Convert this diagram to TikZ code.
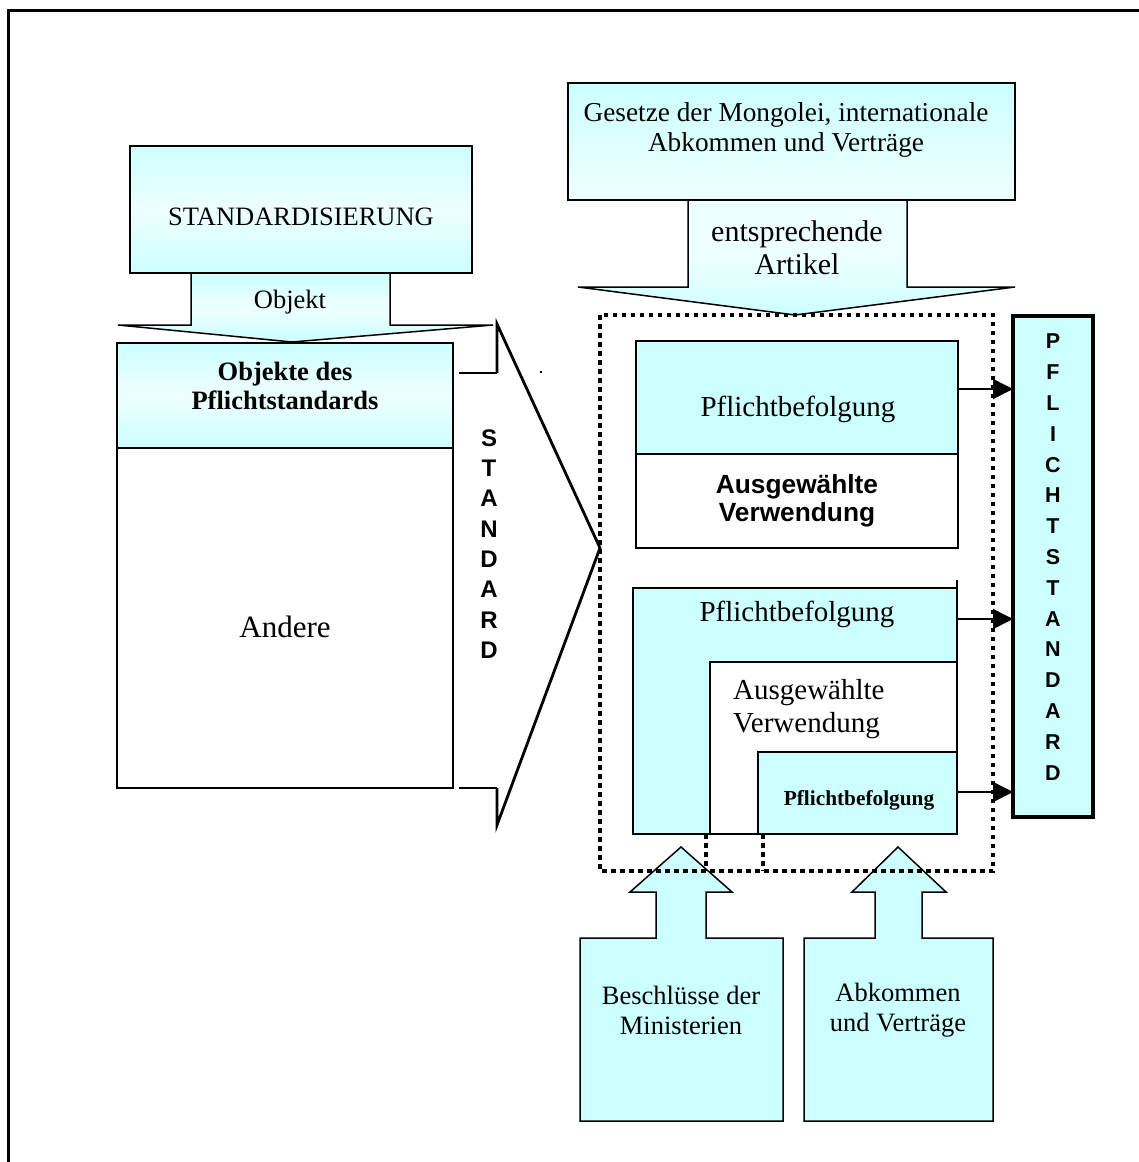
\documentclass[tikz,border=0pt]{standalone}
\usepackage{fontspec}
\setmainfont{Liberation Serif}
\newfontfamily\arialfont{Liberation Sans}
\usetikzlibrary{arrows.meta}
\definecolor{cy}{HTML}{CCFFFF}
\definecolor{cyl}{HTML}{EEFFFF}
\newcommand{\fsz}[2]{\fontsize{#1}{#2}\selectfont}
\begin{document}
\begin{tikzpicture}[x=1pt,y=-1pt,
  box/.style={draw, line width=1.5pt, inner sep=0pt, outer sep=0pt, anchor=north west},
  flatbox/.style={box, fill=cy},
  whitebox/.style={box, fill=white},
  shadebox/.style={box, top color=cy, bottom color=cy, middle color=cyl},
  blockarrow/.style={draw, line width=1.5pt, top color=cy, bottom color=cy, middle color=cyl},
  txt/.style={inner sep=0pt, align=center, font=\fsz{26.5}{30}},
  sansletters/.style={inner sep=0pt, align=center, font=\arialfont\bfseries\fsz{24}{30.3}},
  arr/.style={line width=1.5pt, -{Triangle[length=20pt,width=20pt]}},
  dots/.style={line width=4pt, dash pattern=on 4.5pt off 4.5pt},
  headline/.style={line width=2.8pt, line join=miter}
]
\useasboundingbox (0,0) rectangle (1139,1162);

% page frame (left and top edges only)
\draw[line width=3pt] (8,1162) -- (8,10) -- (1139,10);

% ---------------- left column ----------------
% block arrow below STANDARDISIERUNG
\path[blockarrow] (191,273) -- (191,325) -- (118,325) -- (292,342) -- (493,325) -- (390,325) -- (390,273);
\node[shadebox, minimum width=342pt, minimum height=127pt] (stdz) at (130,146) {};
\node[txt] (tstdz) at (301,217) {STANDARDISIERUNG};
\node[txt] (tobjekt) at (290,302) {Objekt};

\node[shadebox, minimum width=336pt, minimum height=105pt] (obj) at (117,343) {};
\node[whitebox, minimum width=336pt, minimum height=340pt] (andere) at (117,448) {};
\node[txt, font=\bfseries\fsz{26.5}{28.3}] (tobj) at (285,386) {Objekte des\\Pflichtstandards};
\node[txt, font=\fsz{31}{34}] (tandere) at (285,627) {Andere};

% large arrow STANDARD
\coordinate (sa1) at (459,373);
\coordinate (sa2) at (459,788);
\draw[line width=1.5pt] (sa1) -- (497,373);
\draw[line width=1.5pt] (sa2) -- (497,788);
\draw[headline] (497,373) -- (497,324) -- (600,548) -- (497,825) -- (497,788);
\node[sansletters] (tstd) at (489,544) {S\\T\\A\\N\\D\\A\\R\\D};
\fill (540,371) rectangle (542,373);

% ---------------- right column ----------------
\path[blockarrow, top color=cyl, bottom color=cy, middle color=cyl] (688,200) -- (688,287) -- (578,287) -- (795,315) -- (1015,287) -- (907,287) -- (907,200);
\node[box, top color=cy, bottom color=cyl, minimum width=447pt, minimum height=117pt] (ges) at (568,83) {};
\node[txt, font=\fsz{27.3}{30.5}] (tges) at (786,130) {Gesetze der Mongolei, internationale\\Abkommen und Verträge};
\node[txt, font=\fsz{30}{33}] (tart) at (797,248) {entsprechende\\Artikel};

% first group
\node[flatbox, minimum width=322pt, minimum height=113pt] (pb1) at (636,341) {};
\node[whitebox, minimum width=322pt, minimum height=94pt] (av1) at (636,454) {};
\node[txt, font=\fsz{29}{33}] (tpb1) at (798,409) {Pflichtbefolgung};
\node[txt, font=\arialfont\bfseries\fsz{26.3}{28.3}] (tav1) at (797,501) {Ausgewählte\\Verwendung};

% second group (nested)
\node[flatbox, minimum width=324pt, minimum height=246pt] (pb2) at (633,588) {};
\node[whitebox, line width=2.8pt, minimum width=247pt, minimum height=172pt] (av2) at (710,662) {};
\node[flatbox, line width=2pt, minimum width=199pt, minimum height=82pt] (pb3) at (758,752) {};
\draw[line width=2pt] (957,580) -- (957,834);
\node[txt, font=\fsz{29}{33}] (tpb2) at (797,614) {Pflichtbefolgung};
\node[txt, align=left, anchor=west, font=\fsz{29}{33}] (tav2) at (733,709) {Ausgewählte\\Verwendung};
\node[txt, font=\bfseries\fsz{21.3}{24}] (tpb3) at (859,800) {Pflichtbefolgung};

% result column
\node[flatbox, line width=3.5pt, minimum width=80pt, minimum height=501pt] (pstd) at (1013,316) {};
\node[sansletters, font=\arialfont\bfseries\fsz{21.5}{30.8}] (tpstd) at (1053,557) {P\\F\\L\\I\\C\\H\\T\\S\\T\\A\\N\\D\\A\\R\\D};

\coordinate (ya) at (0,389);
\coordinate (yb) at (0,619);
\coordinate (yc) at (0,792);
\draw[arr] (pb1.east |- ya) -- (pstd.west |- ya);
\draw[arr] (pb2.east |- yb) -- (pstd.west |- yb);
\draw[arr] (pb3.east |- yc) -- (pstd.west |- yc);

% sources below
\path[blockarrow, top color=cy, middle color=cyl, bottom color=cy] (580,938) -- (656,938) -- (656,892) -- (630,892) -- (681,847) -- (732,892) -- (706,892) -- (706,938) -- (783,938) -- (783,1121) -- (580,1121) -- cycle;
\path[blockarrow, top color=cy, middle color=cyl, bottom color=cy] (804,938) -- (875,938) -- (875,892) -- (852,892) -- (898,847) -- (946,892) -- (922,892) -- (922,938) -- (993,938) -- (993,1121) -- (804,1121) -- cycle;
\node[txt] (tbes) at (681,1010) {Beschlüsse der\\Ministerien};
\node[txt] (tabk) at (898,1010) {Abkommen\\und Verträge};

% dotted frame
\draw[dots] (600,315) rectangle (993,871);
\draw[dots] (pb2.south -| 706,0) -- (706,871);
\draw[dots] (pb2.south -| 763,0) -- (763,871);
\end{tikzpicture}
\end{document}
